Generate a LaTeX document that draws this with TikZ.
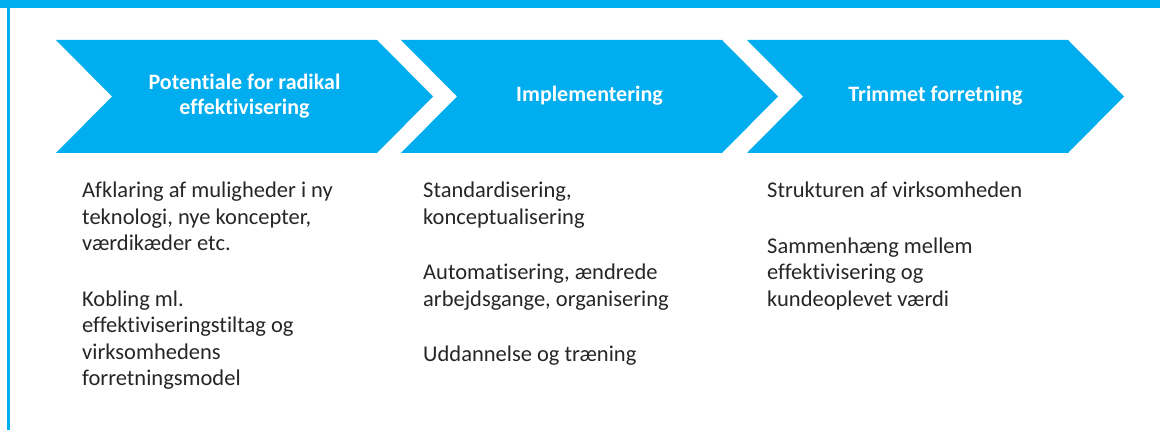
\documentclass[tikz,border=0pt]{standalone}
\usepackage{fontspec}
\setmainfont[Ligatures={NoCommon}]{Carlito}
\usetikzlibrary{positioning,calc}
\definecolor{chevblue}{RGB}{0,173,239}
\tikzset{
    frame/.style =   {fill=chevblue,
                    draw=none},
    chevron/.style = {fill=chevblue,
                    draw=none},
    heading/.style = {text=white,
                    font=\bfseries\fontsize{22}{25}\selectfont,
                    align=center,
                    inner sep=0pt},
    body/.style =    {text=black!85,
                    font=\fontsize{22.5}{26.5}\selectfont,
                    align=left,
                    anchor=north west,
                    inner sep=0pt}}

\begin{document}
\begin{tikzpicture}[x=1pt,y=-1pt]
                \useasboundingbox (0,0) rectangle (1160,430);
                \fill[frame] (0,0) rectangle (1160,8.5);
                \fill[frame] (6.5,0) rectangle (10,430);

                \foreach \x/\name/\txt in {56/pot/{Potentiale for radikal\\effektivisering},
                                           401/imp/{Implementering},
                                           747/trim/{Trimmet forretning}}{
                    \fill[chevron] (\x,40) -- ++(321,0) -- ++(56,56.5) -- ++(-56,56.5)
                                   -- ++(-321,0) -- ++(56,-56.5) -- cycle;
                    \node[heading] (\name) at (\x+188.5,96) {\txt};
                }

                \node[body] (potText)  at (82,182)  {Afklaring af muligheder i ny\\teknologi, nye koncepter,\\værdikæder etc.\\[29pt]Kobling ml.\\effektiviseringstiltag og\\virksomhedens\\forretningsmodel};
                \node[body] (impText)  at (423,182) {Standardisering,\\konceptualisering\\[29pt]Automatisering, ændrede\\arbejdsgange, organisering\\[29pt]Uddannelse og træning};
                \node[body] (trimText) at (767,182) {Strukturen af virksomheden\\[29pt]Sammenhæng mellem\\effektivisering og\\kundeoplevet værdi};
\end{tikzpicture}
\end{document}
